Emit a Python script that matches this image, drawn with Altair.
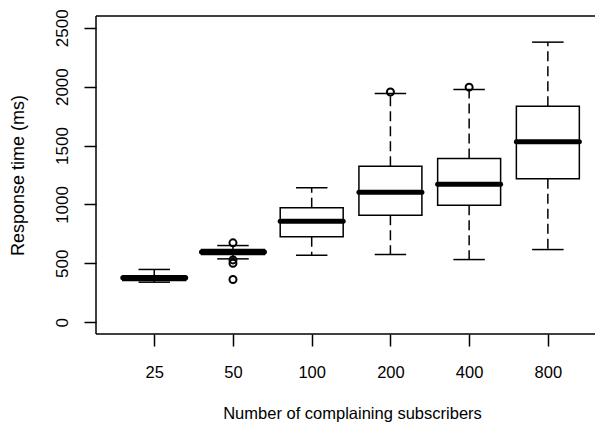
import altair as alt
import pandas as pd

groups = ["25", "50", "100", "200", "400", "800"]
lower_whisker = [340, 538, 569, 575, 532, 617]
q1 = [355, 575, 725, 909, 994, 1218]
median = [378, 596, 858, 1104, 1172, 1532]
q3 = [395, 617, 971, 1325, 1390, 1834]
upper_whisker = [448, 651, 1141, 1943, 1976, 2378]
outlier_group = ["50", "50", "50", "50", "200", "400"]
outlier_value = [674, 529, 500, 363, 1955, 1996]
y_ticks = [0, 500, 1000, 1500, 2000, 2500]

pos = list(range(1, len(groups) + 1))
df = pd.DataFrame({
    "group": groups, "pos": pos, "lo": lower_whisker, "q1": q1,
    "med": median, "q3": q3, "hi": upper_whisker,
})
pos_map = dict(zip(groups, pos))
out = pd.DataFrame({"group": outlier_group, "value": outlier_value})
out["pos"] = out["group"].map(pos_map)

label_expr = "[''," + ",".join("'%s'" % g for g in groups) + "][datum.value]"

W, H = 499, 318
xscale = alt.Scale(domain=[0.26, 0.26 + W / 78.72], nice=False, zero=False)
yscale = alt.Scale(domain=[-100, 2600], nice=False, zero=False)

xaxis = alt.Axis(values=pos, labelExpr=label_expr, title="Number of complaining subscribers",
                 tickSize=12, tickWidth=1.5, tickColor="black", domain=False, grid=False,
                 labelFontSize=16.5, titleFontSize=16.5,
                 labelBaseline="middle", labelPadding=26, titleX=256, titleAlign="center",
                 titleY=79, titleBaseline="middle")
yaxis = alt.Axis(values=y_ticks, format="d", title="Response time (ms)", tickSize=12, tickWidth=1.5,
                 tickColor="black", domain=False, grid=False, labelAngle=270,
                 labelFontSize=17, titleFontSize=18,
                 labelAlign="center", labelBaseline="middle", labelPadding=22,
                 titleX=-78, titleBaseline="middle", titleAngle=270)

base = alt.Chart(df).transform_calculate(
    xl="datum.pos - 0.4", xr="datum.pos + 0.4",
    cl="datum.pos - 0.2", cr="datum.pos + 0.2",
)

X = alt.X("pos:Q", scale=xscale, axis=xaxis)

upper_w = base.mark_rule(color="black", strokeWidth=1.5, strokeDash=[10, 5]).encode(
    x=X, y=alt.Y("q3:Q", scale=yscale, axis=yaxis), y2="hi:Q")
lower_w = base.mark_rule(color="black", strokeWidth=1.5, strokeDash=[10, 5]).encode(
    x=X, y=alt.Y("q1:Q", scale=yscale, axis=yaxis), y2="lo:Q")
cap_hi = base.mark_rule(color="black", strokeWidth=1.5).encode(
    x=alt.X("cl:Q", scale=xscale, axis=xaxis), x2="cr:Q",
    y=alt.Y("hi:Q", scale=yscale, axis=yaxis))
cap_lo = base.mark_rule(color="black", strokeWidth=1.5).encode(
    x=alt.X("cl:Q", scale=xscale, axis=xaxis), x2="cr:Q",
    y=alt.Y("lo:Q", scale=yscale, axis=yaxis))
box = base.mark_rect(fill="white", stroke="black", strokeWidth=1.5).encode(
    x=alt.X("xl:Q", scale=xscale, axis=xaxis), x2="xr:Q",
    y=alt.Y("q1:Q", scale=yscale, axis=yaxis), y2="q3:Q")
med = base.mark_rule(color="black", strokeWidth=5, strokeCap="round").encode(
    x=alt.X("xl:Q", scale=xscale, axis=xaxis), x2="xr:Q",
    y=alt.Y("med:Q", scale=yscale, axis=yaxis))
pts = alt.Chart(out).mark_point(shape="circle", filled=False, size=49, strokeWidth=2,
                                color="black", opacity=1).encode(
    x=alt.X("pos:Q", scale=xscale, axis=xaxis),
    y=alt.Y("value:Q", scale=yscale, axis=yaxis))

# plot frame (left, top, bottom); the right side lies beyond the picture
frame_src = pd.DataFrame({"k": [0]})
frame_left = alt.Chart(frame_src).mark_rule(color="black", strokeWidth=1.5).encode(
    x=alt.value(0), y=alt.value(0), y2=alt.value(H))
frame_top = alt.Chart(frame_src).mark_rule(color="black", strokeWidth=1.5).encode(
    x=alt.value(0), x2=alt.value(W + 20), y=alt.value(0))
frame_bottom = alt.Chart(frame_src).mark_rule(color="black", strokeWidth=1.5).encode(
    x=alt.value(0), x2=alt.value(W + 20), y=alt.value(H))

chart = alt.layer(upper_w, lower_w, cap_hi, cap_lo, box, med, pts,
                  frame_left, frame_top, frame_bottom).properties(
    width=W, height=H,
    autosize=alt.AutoSizeParams(type="none"),
    padding={"left": 88, "top": 8, "right": 0, "bottom": 94},
).configure_view(stroke="transparent").configure_axis(
    labelFont="Liberation Sans", titleFont="Liberation Sans",
    titleFontWeight="normal", labelColor="black", titleColor="black",
)

chart.save("out.html", embed_options={"renderer": "svg", "actions": False})
